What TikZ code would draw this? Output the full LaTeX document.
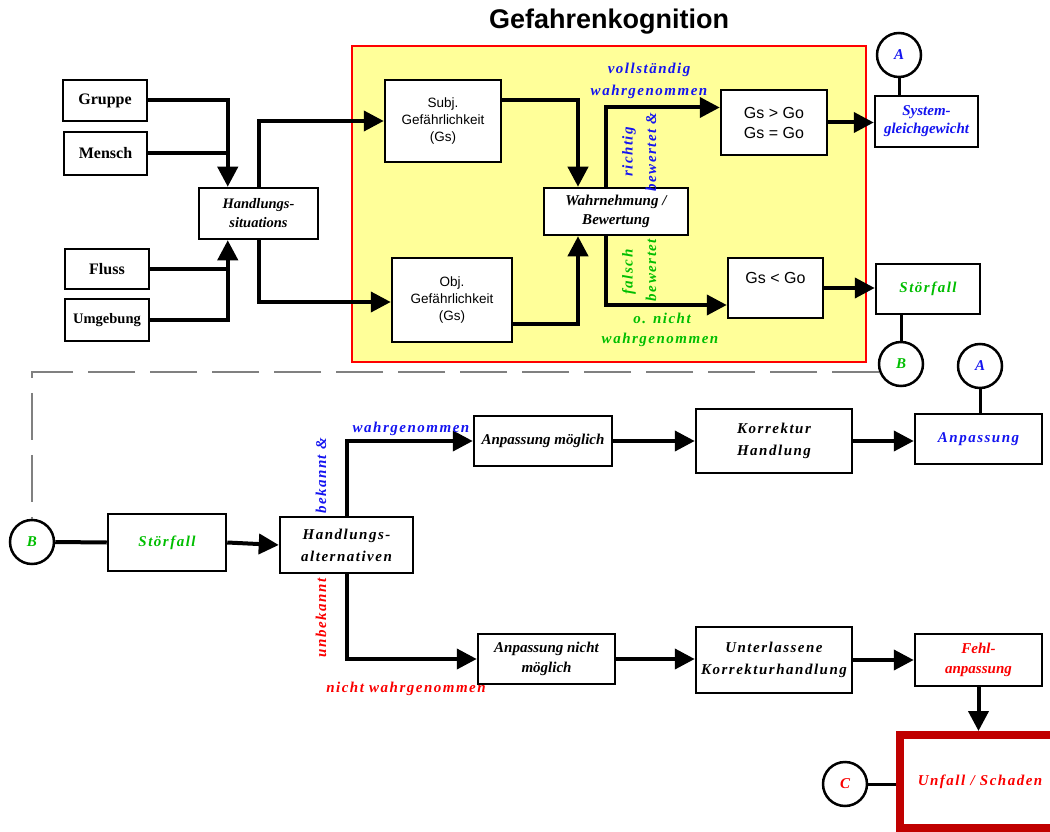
\documentclass[tikz,border=0pt]{standalone}
\usepackage{fontspec}
\setmainfont{Liberation Serif}
\newfontfamily\sansf{Liberation Sans}
\newfontfamily\spacedf[LetterSpace=10]{Liberation Serif}
\usetikzlibrary{arrows.meta}
\definecolor{lblblue}{RGB}{20,20,240}
\definecolor{lblgreen}{RGB}{0,190,0}
\definecolor{lblred}{RGB}{250,0,0}
\definecolor{panelyellow}{RGB}{255,255,153}
\definecolor{alarmred}{RGB}{192,0,0}
\newcommand\boldsrc{\bfseries\fontsize{16}{18}\selectfont}
\newcommand\bisrc{\bfseries\itshape\fontsize{15}{19}\selectfont}
\newcommand\bispaced{\spacedf\bfseries\itshape\fontsize{15}{22}\selectfont}
\newcommand\sansbox{\sansf\fontsize{13.5}{17}\selectfont}
\begin{document}
\begin{tikzpicture}[x=1pt,y=-1pt,
  box/.style={draw,line width=2.5pt,fill=white,inner sep=0pt,align=center},
  conn/.style={line width=4pt},
  arr/.style={line width=4pt,-{Triangle[length=20pt,width=20pt]}},
  thinconn/.style={line width=3pt},
  ring/.style={draw,circle,line width=2.5pt,fill=white,minimum size=44pt,inner sep=0pt,font=\bispaced},
  lbl/.style={inner sep=0pt,font=\bispaced}]
\useasboundingbox (0,0) rectangle (1050,832);
\clip (0,0) rectangle (1050,832);

% ---------- title and panel ----------
\node[font=\sansf\bfseries\fontsize{27}{30}\selectfont] (title) at (609,22) {Gefahrenkognition};
\node[draw=red,fill=panelyellow,line width=2.5pt,minimum width=514pt,minimum height=316pt,inner sep=0pt] (panel) at (609,204) {};

% ---------- upper part: sources ----------
\node[box,minimum width=84pt,minimum height=41pt,font=\boldsrc] (gruppe) at (105,100.5) {Gruppe};
\node[box,minimum width=83pt,minimum height=43pt,font=\boldsrc] (mensch) at (105.5,153.5) {Mensch};
\node[box,minimum width=84pt,minimum height=40pt,font=\boldsrc] (fluss) at (107,269) {Fluss};
\node[box,minimum width=84pt,minimum height=42pt,font=\boldsrc\fontsize{14.5}{17}\selectfont] (umgebung) at (107,320) {Umgebung};
\node[box,minimum width=119pt,minimum height=51pt,font=\bisrc\fontsize{14.5}{19}\selectfont] (hs) at (258.5,213.5) {Handlungs-\\situations};

% ---------- upper part: cognition ----------
\node[box,minimum width=116pt,minimum height=82pt,font=\sansbox] (subj) at (443,121) {Subj.\\Gefährlichkeit\\(Gs)};
\node[box,minimum width=120pt,minimum height=84pt,font=\sansbox] (obj) at (452,300) {Obj.\\Gefährlichkeit\\(Gs)};
\node[box,minimum width=144pt,minimum height=47pt,font=\bisrc] (wahr) at (616,211.5) {Wahrnehmung /\\Bewertung};
\node[box,minimum width=106pt,minimum height=65pt,font=\sansf\fontsize{16}{20}\selectfont] (gsgo) at (774,122.5) {Gs > Go\\Gs = Go};
\node[box,minimum width=95pt,minimum height=60pt,font=\sansf\fontsize{16}{20}\selectfont] (gslt) at (775.5,288) {Gs < Go\\\mbox{}};
\node[box,minimum width=103pt,minimum height=51pt,font=\bisrc\fontsize{15}{18}\selectfont,text=lblblue] (sysg) at (926.5,121.5) {System-\\gleichgewicht};
\node[box,minimum width=104pt,minimum height=50pt,font=\bispaced,text=lblgreen] (stoer) at (928,289) {Störfall};
\node[ring,text=lblblue] (atop) at (899,55) {A};
\node[ring,text=lblgreen] (btop) at (901,364) {B};

% ---------- upper part: connectors ----------
\coordinate (jin) at ([xshift=30pt]hs.north west);
\coordinate (jout) at ([xshift=30pt]hs.south west);
\draw[arr] (gruppe.east) -| (jin);
\draw[conn] (mensch.east) -- (mensch.east -| jin);
\draw[arr] (umgebung.east) -| (jout);
\draw[conn] (fluss.east) -- (fluss.east -| jout);
\draw[arr] (hs.north) |- (subj.west);
\draw[arr] (hs.south) |- ([yshift=-2pt]obj.west);
\draw[arr] ([yshift=21pt]subj.east) -| ([xshift=-38pt]wahr.north);
\draw[arr] ([yshift=-24pt]obj.east) -| ([xshift=-38pt]wahr.south);
\draw[arr] ([xshift=-10pt]wahr.north) |- ([yshift=15pt]gsgo.west);
\draw[arr] ([xshift=-10pt]wahr.south) |- ([yshift=-17pt]gslt.west);
\draw[arr] (gsgo.east) -- (gsgo.east -| sysg.west);
\draw[arr] (gslt.east) -- (gslt.east -| stoer.west);
\draw[thinconn] (atop.south) -- (atop.south |- sysg.north);
\draw[thinconn] (btop.north) -- (btop.north |- stoer.south);

% ---------- upper part: labels ----------
\node[lbl,text=lblblue] (l1) at (649,70) {vollständig};
\node[lbl,text=lblblue] (l2) at (649,92) {wahrgenommen};
\node[lbl,text=lblblue,rotate=90] (l3) at (629,152) {richtig};
\node[lbl,text=lblblue,rotate=90] (l4) at (651,152) {bewertet \&};
\node[lbl,text=lblgreen,rotate=90] (l5) at (629,272) {falsch};
\node[lbl,text=lblgreen,rotate=90] (l6) at (651,270) {bewertet};
\node[lbl,text=lblgreen] (l7) at (662,318) {o. nicht};
\node[lbl,text=lblgreen] (l8) at (660,340) {wahrgenommen};

% ---------- lower part ----------
\node[ring,text=lblgreen] (blow) at (32,542) {B};
\node[box,minimum width=118pt,minimum height=57pt,font=\bispaced,text=lblgreen] (stoer2) at (167,542.5) {Störfall};
\node[box,minimum width=133pt,minimum height=56pt,font=\bispaced] (ha) at (346.5,545) {Handlungs-\\alternativen};
\node[box,minimum width=138pt,minimum height=50pt,font=\bisrc] (am) at (543,441) {Anpassung möglich};
\node[box,minimum width=156pt,minimum height=64pt,font=\bispaced] (kh) at (774,441) {Korrektur\\Handlung};
\node[box,minimum width=127pt,minimum height=50pt,font=\bispaced,text=lblblue] (anp) at (978.5,439) {Anpassung};
\node[ring,text=lblblue] (alow) at (980,366) {A};
\node[box,minimum width=137pt,minimum height=50pt,font=\bisrc\fontsize{15}{20}\selectfont] (anm) at (546.5,659) {Anpassung nicht\\möglich};
\node[box,minimum width=156pt,minimum height=66pt,font=\bispaced] (uk) at (774,660) {Unterlassene\\Korrekturhandlung};
\node[box,minimum width=127pt,minimum height=52pt,font=\bisrc\fontsize{15}{20}\selectfont,text=lblred] (fa) at (978.5,660) {Fehl-\\anpassung};
\node[draw=alarmred,line width=8pt,fill=white,minimum width=170pt,minimum height=93pt,inner sep=0pt,font=\bispaced,text=lblred] (uns) at (985,781.5) {\hspace*{-10pt}Unfall / Schaden};
\node[ring,text=lblred] (cc) at (845,784) {C};

% ---------- lower part: connectors ----------
\draw[gray,line width=1.5pt,dash pattern=on 47pt off 15pt] (btop.200) -| (blow.north);
\draw[conn] (blow.east) -- (stoer2.west);
\draw[arr] (stoer2.east) -- (ha.west);
\draw[arr] (ha.north) |- (am.west);
\draw[arr] (ha.south) |- (anm.west);
\draw[arr] (am.east) -- (kh.west);
\draw[arr] (kh.east) -- (kh.east -| anp.west);
\draw[arr] (anm.east) -- (anm.east -| uk.west);
\draw[arr] (uk.east) -- (uk.east -| fa.west);
\draw[thinconn] (alow.south) -- (alow.south |- anp.north);
\draw[arr] (fa.south) -- (fa.south |- uns.north);
\draw[thinconn] (cc.east) -- (cc.east -| uns.west);

% ---------- lower part: labels ----------
\node[lbl,text=lblblue,rotate=90] (l9) at (321,476) {bekannt \&};
\node[lbl,text=lblred,rotate=90] (l10) at (321,618) {unbekannt};
\node[lbl,text=lblblue] (l11) at (411,429) {wahrgenommen};
\node[lbl,text=lblred] (l12) at (406,689) {nicht wahrgenommen};
\end{tikzpicture}
\end{document}
